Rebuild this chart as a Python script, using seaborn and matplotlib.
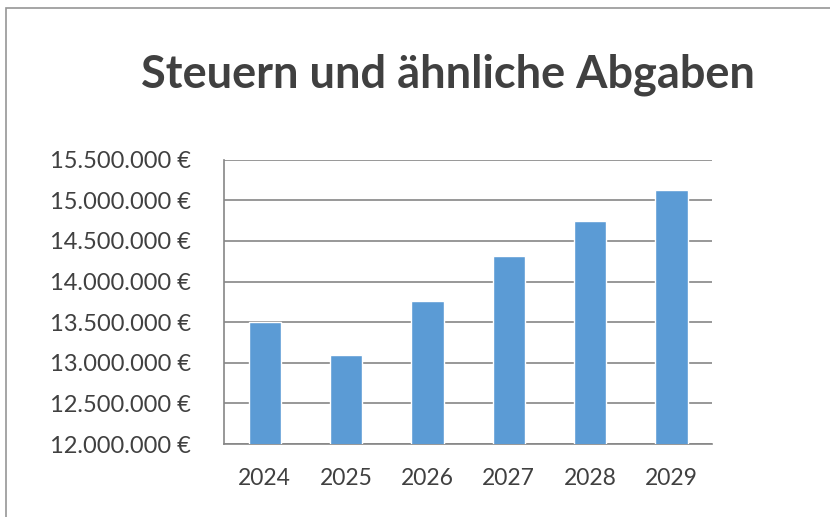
import numpy as np
import pandas as pd
import matplotlib
matplotlib.use('Agg')
import matplotlib.pyplot as plt
import matplotlib.ticker as mticker
from matplotlib.patches import Rectangle
import seaborn as sns

# values
years = ['2024', '2025', '2026', '2027', '2028', '2029']
steuern = [13500000, 13100000, 13760000, 14310000, 14750000, 15125000]
y_ticks = [12000000 + 500000 * i for i in range(8)]

df = pd.DataFrame({'Jahr': years, 'Betrag': steuern})

sns.set_style('white')
plt.rcParams['font.family'] = ['Lato', 'DejaVu Sans']

fig = plt.figure(figsize=(8.3, 5.17), dpi=100)
ax = fig.add_axes([0.270, 0.141, 0.588, 0.550])

sns.barplot(data=df, x='Jahr', y='Betrag', color='#5B9BD5', saturation=1,
            width=0.4, ax=ax, zorder=3)

ax.set_ylim(12000000, 15500000)
ax.set_yticks(y_ticks)
ax.yaxis.set_major_formatter(mticker.FuncFormatter(
    lambda v, p: f'{int(v):,}'.replace(',', '.') + ' €'))
ax.set_xlim(-0.5, len(years) - 0.5)
ax.grid(axis='y', color='#868686', linewidth=1.2, zorder=0)
ax.set_axisbelow(True)

# tick marks between the categories, labels centred under the bars
ax.set_xticks(np.arange(-0.5, len(years)), minor=True)
ax.tick_params(axis='x', which='major', length=0, pad=17, labelsize=16.5, labelcolor='#404040')
ax.tick_params(axis='x', which='minor', length=6, width=1.2, color='#868686', direction='out')
ax.tick_params(axis='y', length=6, width=1.2, color='#868686', direction='out', pad=18,
               labelsize=17, labelcolor='#404040')
ax.set_xlabel('')
ax.set_ylabel('')

for side in ['top', 'right']:
    ax.spines[side].set_visible(False)
for side in ['left', 'bottom']:
    ax.spines[side].set_color('#868686')
    ax.spines[side].set_linewidth(1.2)

fig.text(0.540, 0.855, 'Steuern und ähnliche Abgaben', ha='center', va='center',
         fontsize=32.5, fontweight='bold', color='#404040')

# outer frame of the chart object
fig.patches.append(Rectangle((6 / 830, -0.1), 2, (517 - 8) / 517 + 0.1,
                             transform=fig.transFigure, fill=False,
                             edgecolor='#969696', linewidth=1.2))

plt.savefig('out.png', dpi=100)
